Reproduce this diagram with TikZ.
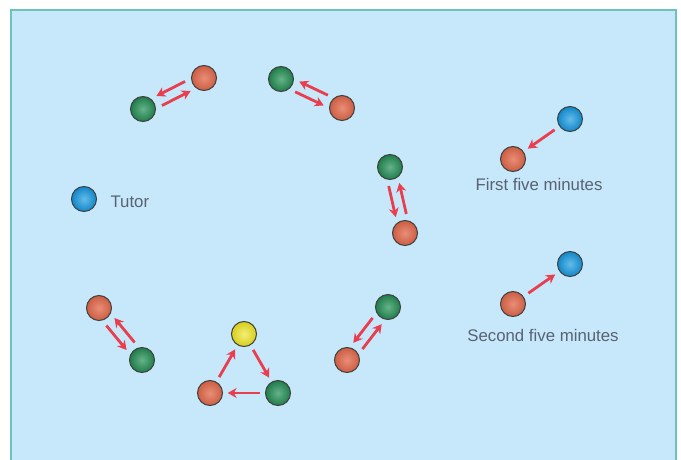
\documentclass[tikz,border=0pt]{standalone}
\usepackage{fontspec}
\setmainfont{Liberation Sans}
\usetikzlibrary{calc,arrows.meta}
\definecolor{panelblue}{RGB}{198,232,250}
\definecolor{paneledge}{RGB}{110,194,188}
\definecolor{arrowred}{RGB}{232,62,78}
\definecolor{labelgrey}{RGB}{88,98,114}
\definecolor{ballred}{RGB}{226,104,74}
\definecolor{ballgreen}{RGB}{36,146,86}
\definecolor{ballblue}{RGB}{18,150,222}
\definecolor{ballyellow}{RGB}{238,228,30}
\begin{document}
\begin{tikzpicture}[x=1pt, y=-1pt,
    ball/.style={circle, draw=black!75, line width=1pt, minimum size=25pt, inner sep=0pt},
    redball/.style={ball, inner color=ballred!75!white, outer color=ballred!90!black},
    greenball/.style={ball, inner color=ballgreen!70!white, outer color=ballgreen!85!black},
    blueball/.style={ball, inner color=ballblue!65!white, outer color=ballblue!90!black},
    yellowball/.style={ball, inner color=ballyellow!60!white, outer color=ballyellow!90!black},
    arrow/.style={-{Stealth[length=9pt, width=10pt]}, line width=2.8pt, draw=arrowred},
    caption/.style={text=labelgrey, font=\fontsize{16.8}{19}\selectfont, anchor=base}
]
\useasboundingbox (0,0) rectangle (681,460);
% Panel
\fill[white] (0,0) rectangle (681,460);
\fill[panelblue] (11,10) rectangle (676,460);
\draw[paneledge, line width=2pt] (11,460) -- (11,10) -- (676,10) -- (676,460);

% Tutor
\node[blueball] (tutor) at (84,199) {};
\node[caption, anchor=base west] (tutorlbl) at (107,207) {Tutor};

% Pairs round the room
\node[greenball] (g1) at (143,109) {};
\node[redball] (r1) at (204,78) {};
\node[greenball] (g2) at (281,79) {};
\node[redball] (r2) at (342,108) {};
\node[greenball] (g3) at (390,167) {};
\node[redball] (r3) at (405,233) {};
\node[redball] (r4) at (99,308) {};
\node[greenball] (g4) at (142,360) {};
\node[greenball] (g5) at (388,307) {};
\node[redball] (r5) at (347,360) {};

% Group of three
\node[yellowball] (y6) at (244,334) {};
\node[redball] (r6) at (210,393) {};
\node[greenball] (g6) at (278,393) {};

% Key
\node[blueball] (kb1) at (570,119) {};
\node[redball] (kr1) at (513,159) {};
\node[caption] (key1) at (539,190) {First five minutes};
\node[blueball] (kb2) at (570,264) {};
\node[redball] (kr2) at (513,304) {};
\node[caption] (key2) at (543,341) {Second five minutes};

% Arrows
\draw[arrow] ($(g1)!0.27!(r1)!5.5pt!-90:(r1)$) -- ($(g1)!0.74!(r1)!5.5pt!-90:(r1)$);
\draw[arrow] ($(r1)!0.27!(g1)!5.5pt!-90:(g1)$) -- ($(r1)!0.74!(g1)!5.5pt!-90:(g1)$);
\draw[arrow] ($(g2)!0.27!(r2)!5.5pt!-90:(r2)$) -- ($(g2)!0.74!(r2)!5.5pt!-90:(r2)$);
\draw[arrow] ($(r2)!0.27!(g2)!5.5pt!-90:(g2)$) -- ($(r2)!0.74!(g2)!5.5pt!-90:(g2)$);
\draw[arrow] ($(g3)!0.27!(r3)!5.5pt!-90:(r3)$) -- ($(g3)!0.74!(r3)!5.5pt!-90:(r3)$);
\draw[arrow] ($(r3)!0.27!(g3)!5.5pt!-90:(g3)$) -- ($(r3)!0.74!(g3)!5.5pt!-90:(g3)$);
\draw[arrow] ($(g4)!0.27!(r4)!5.5pt!-90:(r4)$) -- ($(g4)!0.74!(r4)!5.5pt!-90:(r4)$);
\draw[arrow] ($(r4)!0.27!(g4)!5.5pt!-90:(g4)$) -- ($(r4)!0.74!(g4)!5.5pt!-90:(g4)$);
\draw[arrow] ($(g5)!0.27!(r5)!5.5pt!-90:(r5)$) -- ($(g5)!0.74!(r5)!5.5pt!-90:(r5)$);
\draw[arrow] ($(r5)!0.27!(g5)!5.5pt!-90:(g5)$) -- ($(r5)!0.74!(g5)!5.5pt!-90:(g5)$);
\draw[arrow] ($(r6)!0.27!(y6)$) -- ($(r6)!0.74!(y6)$);
\draw[arrow] ($(y6)!0.27!(g6)$) -- ($(y6)!0.74!(g6)$);
\draw[arrow] ($(g6)!0.27!(r6)$) -- ($(g6)!0.74!(r6)$);
\draw[arrow] ($(kb1)!0.27!(kr1)$) -- ($(kb1)!0.74!(kr1)$);
\draw[arrow] ($(kr2)!0.27!(kb2)$) -- ($(kr2)!0.74!(kb2)$);
\end{tikzpicture}
\end{document}
